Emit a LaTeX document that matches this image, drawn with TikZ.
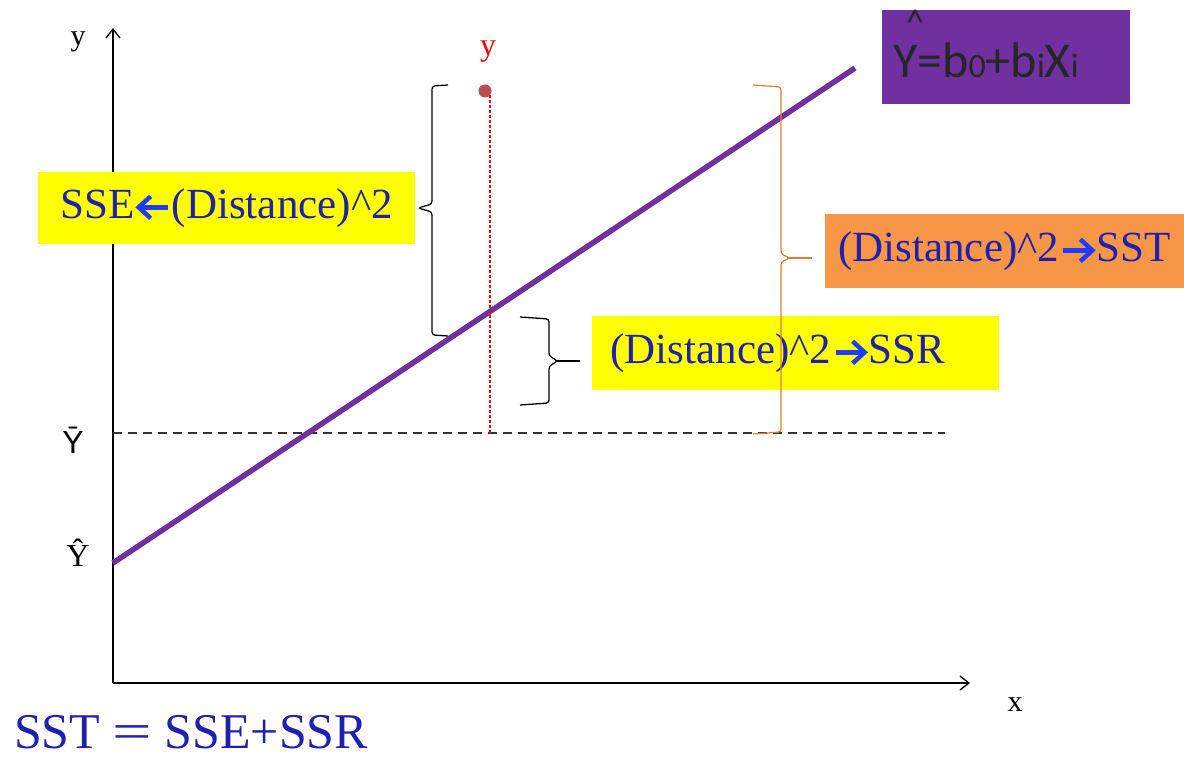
\documentclass[tikz,border=0pt]{standalone}
\usepackage{fontspec}
\setmainfont{Liberation Serif}
\newfontfamily\sansfnt{Liberation Sans}
\newfontfamily\calfont{Carlito}
\usetikzlibrary{arrows.meta}
\definecolor{txtblue}{RGB}{32,32,176}
\definecolor{arrblue}{RGB}{30,60,255}
\definecolor{boxyellow}{RGB}{255,255,0}
\definecolor{boxorange}{RGB}{247,150,70}
\definecolor{braceorange}{RGB}{225,125,50}
\definecolor{boxpurple}{RGB}{112,48,160}
\definecolor{dotred}{RGB}{185,80,80}
\newcommand{\rarr}{\hspace{2pt}\tikz[baseline=0pt,x=1pt,y=1pt]{\draw[arrblue, line width=4.5pt] (0,11) -- (27,11); \draw[arrblue, line width=4.5pt, line join=miter, miter limit=10] (17,22) -- (29,11) -- (17,0);}\hspace{2pt}}
\newcommand{\larr}{\hspace{2pt}\tikz[baseline=0pt,x=1pt,y=1pt]{\draw[arrblue, line width=4.5pt] (2,11) -- (29,11); \draw[arrblue, line width=4.5pt, line join=miter, miter limit=10] (12,22) -- (0,11) -- (12,0);}\hspace{2pt}}
\tikzset{
  labelbox/.style={inner sep=0pt, text=txtblue, font=\fontsize{43}{43}\selectfont},
  axis/.style={line width=1.3pt, -{Straight Barb[length=9pt,width=14pt]}},
  bracepath/.style={line width=1.3pt, rounded corners=3pt},
}
\begin{document}
\begin{tikzpicture}[x=1pt,y=-1pt]
\useasboundingbox[fill=white] (0,0) rectangle (1184,759);
% axes
\coordinate (O) at (113,683);
\coordinate (ytop) at (113,28);
\coordinate (xend) at (970,683);
\draw[axis] (O) -- (ytop);
\draw[axis] (O) -- (xend);
\node[font=\fontsize{30}{30}\selectfont] (ylab) at (78,42) {y};
\node[font=\fontsize{30}{30}\selectfont] (xlab) at (1015,705) {x};
% mean line
\coordinate (m1) at (113,433);
\coordinate (m2) at (945,433);
\draw[line width=1.2pt, dash pattern=on 9pt off 6pt, black!80] (m1) -- (m2);
\node[font=\sansfnt\fontsize{32}{32}\selectfont] (ybar) at (73,440) {Ȳ};
\node[font=\fontsize{32}{32}\selectfont] (yhat) at (78,553) {Ŷ};
% regression line
\coordinate (r1) at (113,563);
\coordinate (r2) at (855,68);
\draw[boxpurple, line width=5.5pt] (r1) -- (r2);
% point and residual line
\coordinate (pbase) at (490,433);
\coordinate (ptop) at (490,95);
\draw[red, line width=1.3pt, dash pattern=on 3pt off 2pt] (ptop) -- (pbase);
\fill[dotred] (485,91) circle (6.5pt);
\node[text=red, font=\fontsize{32}{32}\selectfont] (ylabred) at (488,52) {y};
% black braces
\draw[bracepath] (448,85) -- (432,86) -- (432,204) -- (418,208) -- (432,212) -- (432,335) -- (448,336);
\draw[bracepath] (520,317) -- (549,319) -- (549,356) -- (558,361) -- (549,366) -- (549,403) -- (520,405);
\draw[line width=1.3pt] (556,361) -- (580,361);
% boxes
\node[labelbox, fill=boxyellow, minimum width=377pt, minimum height=72pt] (sse) at (226.5,208) {SSE\larr(Distance)\^{}2};
\node[fill=boxyellow, inner sep=0pt, minimum width=407pt, minimum height=74pt] (ssr) at (795.5,353) {};
\node[labelbox] (ssrtext) at (778,353) {(Distance)\^{}2\rarr SSR};
\node[labelbox, fill=boxorange, minimum width=359pt, minimum height=74pt] (sst) at (1004.5,251) {(Distance)\^{}2\rarr SST};
% orange brace (drawn over the SSR box)
\coordinate (sttip) at (812,258);
\draw[bracepath, braceorange, line width=1.2pt] (753,85) -- (781,87) -- (781,254) -- (790,258) -- (781,262) -- (781,432) -- (753,434);
\draw[braceorange, line width=1.2pt] (788,258) -- (sttip);
% equation box
\node[fill=boxpurple, inner sep=0pt, minimum width=248pt, minimum height=94pt] (eq) at (1006,57) {};
\node[font=\calfont\fontsize{50}{50}\selectfont, text=black!85, anchor=base west, inner sep=0pt] (eqt) at (893,78) {Y=b{\fontsize{34}{34}\selectfont 0}+b{\fontsize{34}{34}\selectfont i}X{\fontsize{34}{34}\selectfont i}};
\node[font=\calfont\fontsize{36}{36}\selectfont, text=black!85, inner sep=0pt] (hat) at (915,22) {\^{}};
% bottom equation
\node[text=txtblue, font=\fontsize{50}{50}\selectfont, anchor=base west, inner sep=0pt] (sum) at (14,748) {SST \scalebox{1.4}[1]{=} SSE+SSR};
\end{tikzpicture}
\end{document}
